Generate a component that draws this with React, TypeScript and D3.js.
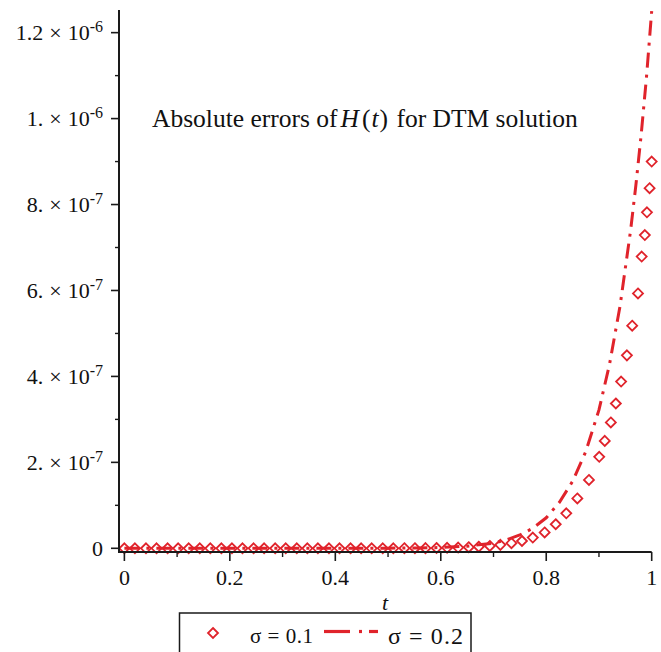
import React from "react";
import * as d3 from "d3";

const W = 661;
const H = 652;

// sigma = 0.1 series (diamond points): t values and absolute error in units of 1e-6
const s1T = [
  0, 0.02, 0.041, 0.061, 0.082, 0.102, 0.122, 0.143, 0.163, 0.184, 0.204, 0.224,
  0.245, 0.265, 0.286, 0.306, 0.327, 0.347, 0.367, 0.388, 0.408, 0.429, 0.449,
  0.469, 0.49, 0.51, 0.531, 0.551, 0.571, 0.592, 0.612, 0.633, 0.653, 0.672,
  0.693, 0.713, 0.734, 0.754, 0.7745, 0.797, 0.818, 0.838, 0.859, 0.881, 0.9005,
  0.911, 0.9225, 0.932, 0.942, 0.953, 0.963, 0.974, 0.981, 0.987, 0.991, 0.996, 1.0,
];
const s1V = [
  0, 0, 0, 0, 0, 0, 0, 0, 0, 0, 0, 0,
  0, 0, 0, 0, 0, 0, 0, 0, 0, 0, 0.0001,
  0.0001, 0.0001, 0.0001, 0.0002, 0.0003, 0.0004, 0.0007, 0.0011, 0.0017, 0.0025, 0.0037,
  0.0055, 0.008, 0.012, 0.017, 0.025, 0.037, 0.056, 0.0815, 0.116, 0.159, 0.213,
  0.25, 0.293, 0.337, 0.388, 0.449, 0.518, 0.593, 0.679, 0.729, 0.782, 0.838, 0.9,
];

// sigma = 0.2 series (dash-dot line): t values and absolute error in units of 1e-6
const s2T = [
  0, 0.1, 0.2, 0.3, 0.4, 0.5, 0.55, 0.6, 0.65, 0.7, 0.725, 0.75, 0.775, 0.8,
  0.825, 0.85, 0.875, 0.9, 0.92, 0.94, 0.96, 0.97, 0.98, 0.99, 1.0,
];
const s2V = [
  0, 0, 0, 0, 0.0001, 0.0003, 0.0008, 0.0018, 0.005, 0.012, 0.02, 0.031, 0.047,
  0.071, 0.107, 0.156, 0.225, 0.322, 0.428, 0.564, 0.74, 0.845, 0.962, 1.095, 1.25,
];

const xTickValues = [0, 0.2, 0.4, 0.6, 0.8, 1];
const xTickLabels = ["0", "0.2", "0.4", "0.6", "0.8", "1"];
const xMinorTicks = [0.1, 0.3, 0.5, 0.7, 0.9];

const yTickValues = [0, 0.2, 0.4, 0.6, 0.8, 1.0, 1.2];
const yTickMantissas = ["0", "2.", "4.", "6.", "8.", "1.", "1.2"];
const yTickExponents = ["", "-7", "-7", "-7", "-7", "-6", "-6"];
const yMinorTicks = [0.1, 0.3, 0.5, 0.7, 0.9, 1.1];

const legendLabels = ["σ = 0.1", "σ = 0.2"];

const RED = "#e0232b";
const AXIS = "#1a1a1a";
const FONT = "'Liberation Serif', 'Times New Roman', serif";

export default function App() {
  const x = d3.scaleLinear().domain([-0.0102, 1]).range([119, 651.7]);
  const y = d3.scaleLinear().domain([-0.0086, 1.2527]).range([552, 10]);

  const s2 = s2T.map((t, i) => [t, s2V[i]] as [number, number]);
  const s1 = s1T.map((t, i) => [t, s1V[i]] as [number, number]);

  const line = d3
    .line<[number, number]>()
    .x((d) => x(d[0]))
    .y((d) => y(d[1]))
    .curve(d3.curveLinear);

  const x0 = x.range()[0];
  const x1 = x.range()[1];
  const yBottom = y.range()[0];
  const yTop = y.range()[1];
  const diamond = "M0,-5L5,0L0,5L-5,0Z";

  return (
    <svg
      width={W}
      height={H}
      style={{ position: "absolute", left: 0, top: 0, background: "#fff" }}
      fontFamily={FONT}
    >
      <rect x={0} y={0} width={W} height={H} fill="#fff" />

      {/* title */}
      <text x={152} y={127} fontSize={25.5} fill="#111">
        <tspan>Absolute errors of</tspan>
        <tspan fontStyle="italic" dx={3}>H</tspan>
        <tspan dx={3}>(</tspan>
        <tspan fontStyle="italic" dx={1}>t</tspan>
        <tspan dx={1}>)</tspan>
        <tspan dx={2}> for DTM solution</tspan>
      </text>

      {/* data: sigma = 0.2 dash-dot */}
      <path
        d={line(s2) || ""}
        fill="none"
        stroke={RED}
        strokeWidth={3}
        strokeDasharray="15 7 3 7"
      />

      {/* data: sigma = 0.1 diamonds */}
      {s1.map((d, i) => (
        <path
          key={i}
          d={diamond}
          transform={`translate(${x(d[0])},${y(d[1])})`}
          fill="none"
          stroke={RED}
          strokeWidth={1.8}
        />
      ))}

      {/* axes */}
      <line x1={x0} x2={x0} y1={yTop} y2={yBottom + 1} stroke={AXIS} strokeWidth={2} />
      <line x1={x0} x2={x1} y1={yBottom} y2={yBottom} stroke={AXIS} strokeWidth={2} />

      {/* y ticks */}
      {yTickValues.map((v, i) => (
        <g key={"yt" + i}>
          <line x1={x0 - 8} x2={x0} y1={y(v)} y2={y(v)} stroke={AXIS} strokeWidth={1.6} />
          <text x={103} y={y(v) + 7.5} textAnchor="end" fontSize={22} fill="#111">
            {yTickExponents[i] ? (
              <>
                <tspan>{yTickMantissas[i]}</tspan>
                <tspan dx={6}>×</tspan>
                <tspan dx={6}>10</tspan>
                <tspan dy={-8} fontSize={16}>{yTickExponents[i]}</tspan>
              </>
            ) : (
              <tspan>{yTickMantissas[i]}</tspan>
            )}
          </text>
        </g>
      ))}
      {yMinorTicks.map((v, i) => (
        <line key={"ym" + i} x1={x0 - 4} x2={x0} y1={y(v)} y2={y(v)} stroke={AXIS} strokeWidth={1.4} />
      ))}

      {/* x ticks */}
      {xTickValues.map((v, i) => (
        <g key={"xt" + i}>
          <line x1={x(v)} x2={x(v)} y1={yBottom} y2={yBottom + 9} stroke={AXIS} strokeWidth={1.6} />
          <text x={x(v)} y={585} textAnchor="middle" fontSize={22} fill="#111">
            {xTickLabels[i]}
          </text>
        </g>
      ))}
      {xMinorTicks.map((v, i) => (
        <line key={"xm" + i} x1={x(v)} x2={x(v)} y1={yBottom} y2={yBottom + 5} stroke={AXIS} strokeWidth={1.4} />
      ))}

      {/* x axis label */}
      <text x={385} y={610} textAnchor="middle" fontSize={22} fontStyle="italic" fill="#111">
        t
      </text>

      {/* legend */}
      <rect x={179.5} y={613} width={291.5} height={45} fill="none" stroke={AXIS} strokeWidth={1.5} />
      <path d={diamond} transform="translate(213,633)" fill="none" stroke={RED} strokeWidth={1.8} />
      <text
        x={250}
        y={642.5}
        fontSize={21}
        fill="#111"
        textLength={63}
        lengthAdjust="spacing"
        style={{ whiteSpace: "pre" }}
      >
        {legendLabels[0]}
      </text>
      <line x1={324} x2={350} y1={631.5} y2={631.5} stroke={RED} strokeWidth={3.2} />
      <line x1={359} x2={362} y1={631.5} y2={631.5} stroke={RED} strokeWidth={3.2} />
      <line x1={369} x2={378} y1={631.5} y2={631.5} stroke={RED} strokeWidth={3.2} />
      <text
        x={388}
        y={643.5}
        fontSize={24}
        fill="#111"
        textLength={75}
        lengthAdjust="spacing"
        style={{ whiteSpace: "pre" }}
      >
        {legendLabels[1]}
      </text>
    </svg>
  );
}
